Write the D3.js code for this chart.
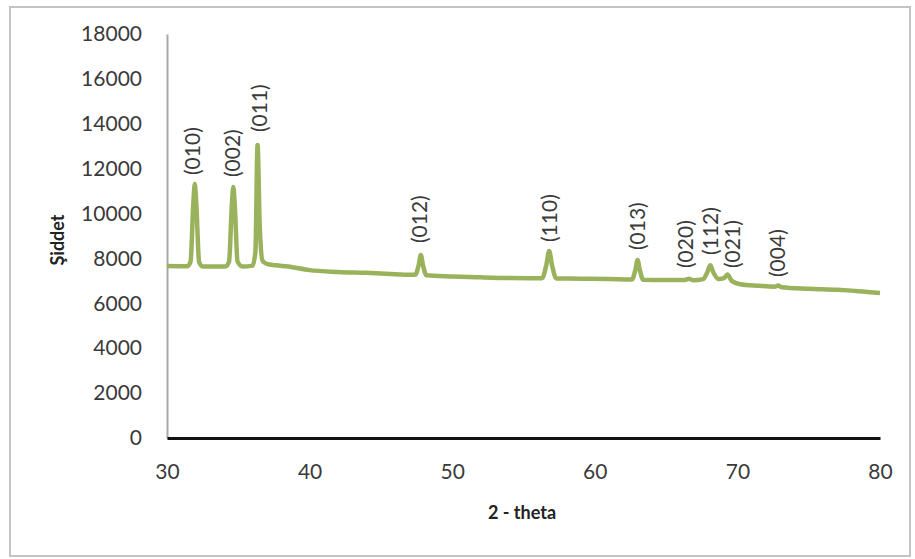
<!DOCTYPE html>
<html>
<head>
<meta charset="utf-8">
<script src="https://cdn.jsdelivr.net/npm/d3@7"></script>
<style>
    body { margin: 0; background: #fff; }
    svg text { font-family: Lato, "Open Sans", sans-serif; fill: #3a3a3a; }
    .axis-title { font-weight: bold; fill: #222; }
</style>
</head>
<body>
<svg id="chart" width="915" height="559"></svg>
<script>
// XRD pattern: 2-theta (deg) and intensity
var thetaValues = [30, 31.4, 31.65, 31.85, 31.95, 32.05, 32.25, 32.5,
    34.1, 34.35, 34.55, 34.65, 34.75, 34.95, 35.3,
    36.0, 36.2, 36.35, 36.5, 36.7, 37.0, 37.6, 38.5,
    40, 42, 44, 46, 47.4, 47.65, 47.8, 47.95, 48.2,
    50, 52, 54, 56.3, 56.6, 56.8, 57.0, 57.3,
    59, 61, 62.6, 62.85, 63.0, 63.15, 63.4,
    65, 66.3, 66.6, 66.9, 67.6, 67.9, 68.1, 68.3, 68.7, 69.05, 69.3, 69.6,
    70.2, 71.5, 72.6, 72.85, 73.1, 75, 77, 78.5, 80];
var intensityValues = [7660, 7650, 7850, 10500, 11320, 10500, 7850, 7640,
    7640, 7850, 10400, 11180, 10400, 7850, 7640,
    7680, 8300, 13050, 9500, 7900, 7760, 7700, 7640,
    7480, 7400, 7360, 7300, 7270, 7700, 8150, 7700, 7250,
    7200, 7160, 7130, 7120, 7700, 8330, 7700, 7110,
    7100, 7080, 7060, 7500, 7930, 7500, 7050,
    7040, 7040, 7090, 7030, 7080, 7400, 7700, 7400, 7080, 7120, 7280, 7000,
    6850, 6780, 6740, 6790, 6720, 6650, 6600, 6540, 6460];

// Miller index labels and where they sit
var peakLabels = ["(010)", "(002)", "(011)", "(012)", "(110)", "(013)", "(020)", "(112)", "(021)", "(004)"];
var peakTheta = [31.82, 34.63, 36.52, 47.74, 56.86, 63.03, 66.40, 68.15, 69.70, 72.85];
var peakLabelBase = [11717, 11627, 13632, 8687, 8732, 8375, 7574, 8153, 7574, 7173];

var xTicks = [30, 40, 50, 60, 70, 80];
var yTicks = [0, 2000, 4000, 6000, 8000, 10000, 12000, 14000, 16000, 18000];

var svg = d3.select("#chart");

// outer frame
svg.append("rect")
    .attr("x", 10).attr("y", 7)
    .attr("width", 900).attr("height", 549)
    .attr("fill", "#fff")
    .attr("stroke", "#c4c4c4")
    .attr("stroke-width", 2);

var xScale = d3.scaleLinear().domain([30, 80]).range([167, 880]);
var yScale = d3.scaleLinear().domain([0, 18000]).range([438, 34]);

// y axis
var yAxis = svg.append("g")
    .attr("transform", "translate(167,0)")
    .call(d3.axisLeft(yScale).tickValues(yTicks).tickSize(0).tickPadding(25).tickFormat(d3.format("d")));
yAxis.select(".domain").attr("stroke", "#a8a8a8").attr("stroke-width", 2);
yAxis.selectAll("text").style("font-size", "21px").attr("fill", "#3a3a3a");

// x axis
var xAxis = svg.append("g")
    .attr("transform", "translate(0,438)")
    .call(d3.axisBottom(xScale).tickValues(xTicks).tickSize(0).tickPadding(26));
xAxis.select(".domain").attr("stroke", "#111").attr("stroke-width", 3);
xAxis.selectAll("text").style("font-size", "21px").attr("fill", "#3a3a3a");

// pattern line
var line = d3.line()
    .x(function (d, i) { return xScale(thetaValues[i]); })
    .y(function (d) { return yScale(d); })
    .curve(d3.curveMonotoneX);

svg.append("path")
    .datum(intensityValues)
    .attr("d", line)
    .attr("fill", "none")
    .attr("stroke", "#9bb25c")
    .attr("stroke-width", 4.5)
    .attr("stroke-linejoin", "round");

// peak labels, rotated
svg.selectAll(".peak-label")
    .data(peakLabels)
    .enter()
    .append("text")
    .attr("class", "peak-label")
    .attr("transform", function (d, i) {
        return "translate(" + xScale(peakTheta[i]) + "," + yScale(peakLabelBase[i]) + ") rotate(-90)";
    })
    .attr("dy", "0.35em")
    .style("font-size", "21px")
    .text(function (d) { return d; });

// axis titles
svg.append("text")
    .attr("class", "axis-title")
    .attr("transform", "translate(58,240) rotate(-90)")
    .attr("text-anchor", "middle")
    .attr("dy", "0.35em")
    .style("font-size", "18px")
    .text("Şiddet");

svg.append("text")
    .attr("class", "axis-title")
    .attr("x", 522).attr("y", 513)
    .attr("text-anchor", "middle")
    .attr("dy", "0.35em")
    .style("font-size", "18px")
    .text("2 - theta");
</script>
</body>
</html>
